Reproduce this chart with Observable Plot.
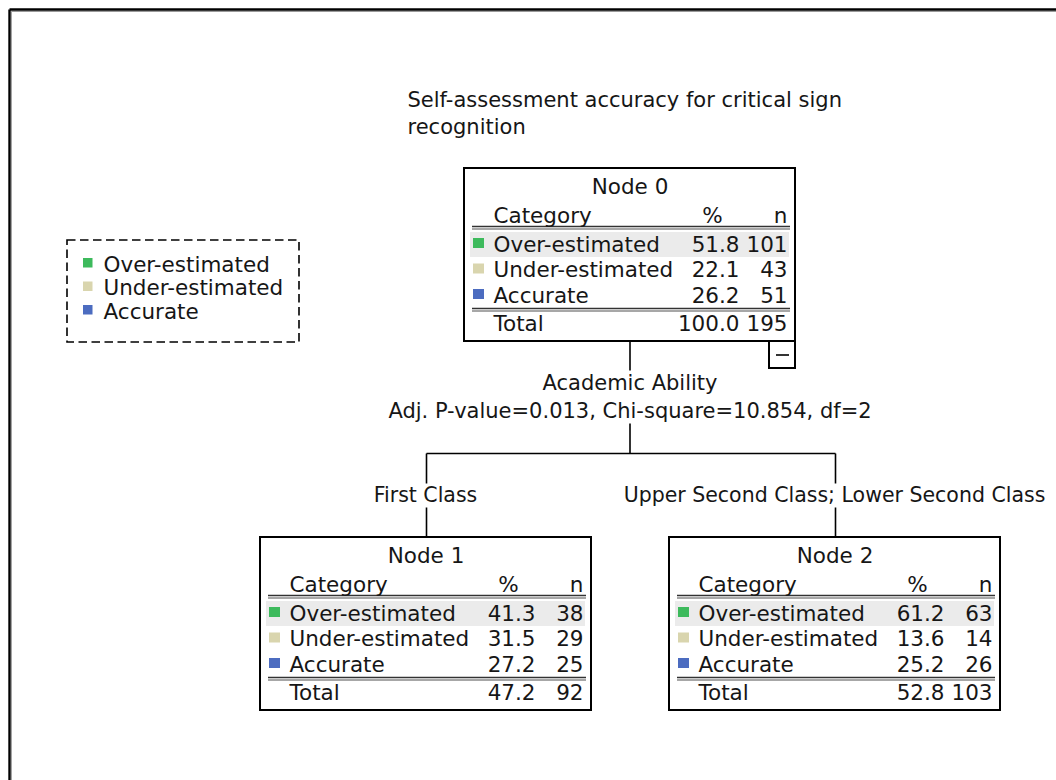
<!DOCTYPE html>
<html><head><meta charset="utf-8">
<script src="https://cdn.jsdelivr.net/npm/d3@7"></script>
<script src="https://cdn.jsdelivr.net/npm/@observablehq/plot@0.6"></script>
<style>html,body{margin:0;padding:0;background:#fff;overflow:hidden;}</style>
</head><body><div id="chart"></div>
<script>
// ---------- data ----------
const titleLines = ["Self-assessment accuracy for critical sign", "recognition"];
const categories = ["Over-estimated", "Under-estimated", "Accurate"];
const categoryColors = ["#3dba5c", "#d9d5ae", "#4c6cc0"];
const nodeNames = ["Node 0", "Node 1", "Node 2"];
const nodePercent = [[51.8, 22.1, 26.2], [41.3, 31.5, 27.2], [61.2, 13.6, 25.2]];
const nodeCount = [[101, 43, 51], [38, 29, 25], [63, 14, 26]];
const nodeTotalPercent = [100.0, 47.2, 52.8];
const nodeTotalCount = [195, 92, 103];
const headerLabels = ["Category", "%", "n"];
const totalLabel = "Total";
const splitVariable = "Academic Ability";
const splitStats = "Adj. P-value=0.013, Chi-square=10.854, df=2";
const branchLabels = ["First Class", "Upper Second Class; Lower Second Class"];

// ---------- layout ----------
const W = 1056, H = 780;
const FONT = "DejaVu Sans";
const FS = 21;
const FT = 21.5; // table / legend text
const INK = "#161616";
const mid = (b, fs = FS) => b - 0.32 * fs; // baseline -> middle anchor
const BW = 331, BH = 173;
const boxPos = [{x: 464, y: 168}, {x: 260, y: 537}, {x: 669, y: 537}];
const rowBase = [83, 108.5, 134];

const boxes = boxPos.map((p, i) => ({x1: p.x, x2: p.x + BW, y1: p.y, y2: p.y + BH, name: nodeNames[i]}));
const highlights = boxPos.map(p => ({x1: p.x + 6, x2: p.x + 325, y1: p.y + 64, y2: p.y + 89}));
const rows = [];
boxPos.forEach((p, i) => categories.forEach((c, j) => rows.push({
  node: i, cat: c, x: p.x, yb: p.y + rowBase[j],
  pct: nodePercent[i][j].toFixed(1), n: String(nodeCount[i][j])
})));
const headers = boxPos.map(p => ({x: p.x, yb: p.y + 54}));
const totals = boxPos.map((p, i) => ({x: p.x, yb: p.y + 162, pct: nodeTotalPercent[i].toFixed(1), n: String(nodeTotalCount[i])}));
const dbl1 = [], dbl2 = [];
boxPos.forEach(p => {
  [58, 140].forEach(o => {
    dbl1.push({x1: p.x + 8, x2: p.x + 326, y: p.y + o});
    dbl2.push({x1: p.x + 8, x2: p.x + 326, y: p.y + o + 2.5});
  });
});

const cx0 = boxPos[0].x + BW / 2;
const bx = [426, 835];
const connectors = [
  {x1: cx0, y1: boxPos[0].y + BH, x2: cx0, y2: 370},
  {x1: cx0, y1: 423, x2: cx0, y2: 453},
  {x1: bx[0], y1: 453, x2: bx[1], y2: 453},
  {x1: bx[0], y1: 453, x2: bx[0], y2: 483},
  {x1: bx[1], y1: 453, x2: bx[1], y2: 483},
  {x1: bx[0], y1: 507, x2: bx[0], y2: boxPos[1].y},
  {x1: bx[1], y1: 507, x2: bx[1], y2: boxPos[2].y}
];

const frameDark = [{x1: 9, y1: 9, x2: 9, y2: H + 5}, {x1: 9, y1: 9, x2: W + 5, y2: 9}];
const frameGrey = [{x1: 10.8, y1: 10.8, x2: 10.8, y2: H + 5}, {x1: 10.8, y1: 10.8, x2: W + 5, y2: 10.8}];

const legendBox = [{x1: 67, x2: 299, y1: 240, y2: 342}];
const legendItems = categories.map((c, j) => ({cat: c, yb: 271 + j * 23.5}));

const minusBox = [{x1: 769, x2: 795, y1: boxPos[0].y + BH, y2: boxPos[0].y + BH + 27}];
const minusLine = [{x1: 776, x2: 789, y: boxPos[0].y + BH + 13.5}];

const txt = (data, opts) => Plot.text(data, {fontFamily: FONT, fontSize: FS, fill: INK, ...opts});
const ttx = (data, opts) => Plot.text(data, {fontFamily: FONT, fontSize: FT, fill: INK, ...opts});

const chart = Plot.plot({
  width: W, height: H,
  margin: 0,
  x: {domain: [0, W], range: [0, W], axis: null},
  y: {domain: [0, H], range: [0, H], axis: null},
  color: {domain: categories, range: categoryColors},
  style: {background: "#fff", fontFamily: FONT},
  marks: [
    Plot.link(frameGrey, {x1: "x1", y1: "y1", x2: "x2", y2: "y2", stroke: "#9a9a9a", strokeWidth: 1.2}),
    Plot.link(frameDark, {x1: "x1", y1: "y1", x2: "x2", y2: "y2", stroke: "#000", strokeWidth: 2.4}),
    // title
    txt(titleLines.map((t, i) => ({t, yb: 106 + i * 27})), {x: 407, y: d => mid(d.yb), text: "t", textAnchor: "start"}),
    // legend
    Plot.rect(legendBox, {x1: "x1", x2: "x2", y1: "y1", y2: "y2", fill: "none", stroke: "#000", strokeWidth: 1.6, strokeDasharray: "8.5,4.5"}),
    Plot.rect(legendItems, {x1: 83, x2: 92.5, y1: d => d.yb - 13, y2: d => d.yb - 3.5, fill: "cat"}),
    ttx(legendItems, {x: 103, y: d => mid(d.yb, FT), text: "cat", textAnchor: "start"}),
    // connectors
    Plot.link(connectors, {x1: "x1", y1: "y1", x2: "x2", y2: "y2", stroke: "#000", strokeWidth: 1.6}),
    txt([splitVariable], {x: cx0, y: mid(389), text: d => d}),
    txt([splitStats], {x: cx0, y: mid(417), text: d => d}),
    Plot.text(branchLabels.map((t, i) => ({t, x: bx[i] - 1})), {x: "x", y: mid(501, 20.5), text: "t", fontFamily: FONT, fontSize: 20.5, fill: INK}),
    // node boxes
    Plot.rect(boxes, {x1: "x1", x2: "x2", y1: "y1", y2: "y2", fill: "#fff"}),
    Plot.rect(highlights, {x1: "x1", x2: "x2", y1: "y1", y2: "y2", fill: "#ebebeb"}),
    Plot.rect(boxes, {x1: "x1", x2: "x2", y1: "y1", y2: "y2", fill: "none", stroke: "#000", strokeWidth: 2}),
    Plot.ruleY(dbl1, {x1: "x1", x2: "x2", y: "y", stroke: "#333", strokeWidth: 1.5}),
    Plot.ruleY(dbl2, {x1: "x1", x2: "x2", y: "y", stroke: "#8a8a8a", strokeWidth: 1.5}),
    ttx(boxes, {x: d => (d.x1 + d.x2) / 2, y: d => mid(d.y1 + 25, FT), text: "name"}),
    ttx(headers, {x: d => d.x + 29, y: d => mid(d.yb, FT), text: () => headerLabels[0], textAnchor: "start"}),
    ttx(headers, {x: d => d.x + 248, y: d => mid(d.yb, FT), text: () => headerLabels[1]}),
    ttx(headers, {x: d => d.x + 323, y: d => mid(d.yb, FT), text: () => headerLabels[2], textAnchor: "end"}),
    Plot.rect(rows, {x1: d => d.x + 9, x2: d => d.x + 20, y1: d => d.yb - 13, y2: d => d.yb - 3, fill: "cat"}),
    ttx(rows, {x: d => d.x + 29, y: d => mid(d.yb, FT), text: "cat", textAnchor: "start"}),
    ttx(rows, {x: d => d.x + 275, y: d => mid(d.yb, FT), text: "pct", textAnchor: "end"}),
    ttx(rows, {x: d => d.x + 323, y: d => mid(d.yb, FT), text: "n", textAnchor: "end"}),
    ttx(totals, {x: d => d.x + 29, y: d => mid(d.yb, FT), text: () => totalLabel, textAnchor: "start"}),
    ttx(totals, {x: d => d.x + 275, y: d => mid(d.yb, FT), text: "pct", textAnchor: "end"}),
    ttx(totals, {x: d => d.x + 323, y: d => mid(d.yb, FT), text: "n", textAnchor: "end"}),
    // collapse button
    Plot.rect(minusBox, {x1: "x1", x2: "x2", y1: "y1", y2: "y2", fill: "#fff", stroke: "#000", strokeWidth: 2}),
    Plot.ruleY(minusLine, {x1: "x1", x2: "x2", y: "y", stroke: "#000", strokeWidth: 1.6})
  ]
});
document.getElementById("chart").appendChild(chart);
</script>
</body></html>
